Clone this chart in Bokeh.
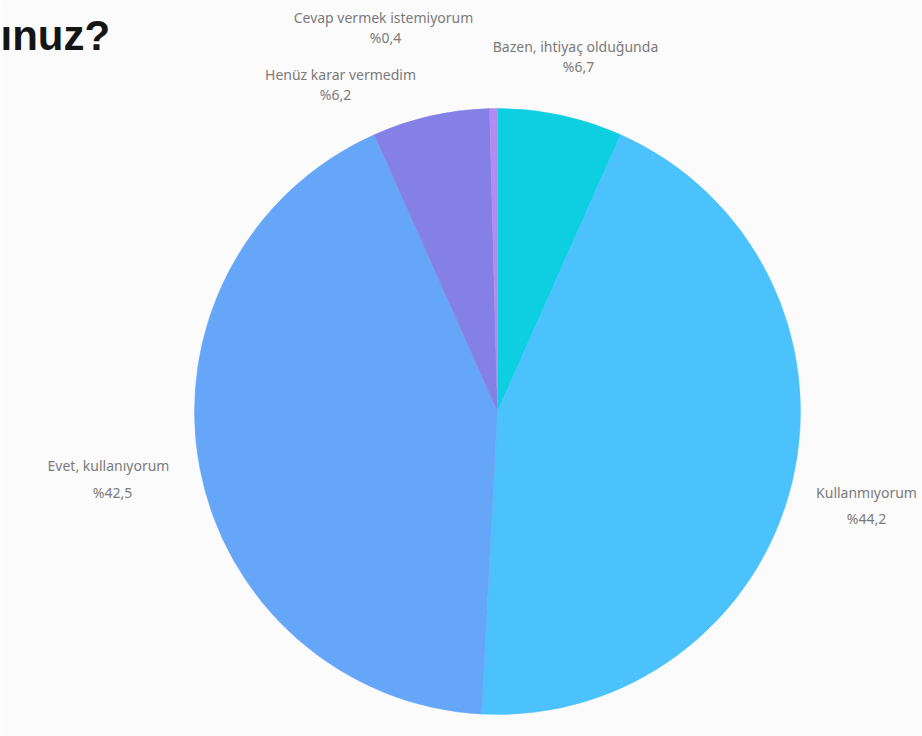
import math
from bokeh.plotting import figure
from bokeh.models import Label, Range1d
from bokeh.embed import file_html
from bokeh.resources import INLINE

# ---- data ----
title_tail = "ınuz?"
categories = ["Bazen, ihtiyaç olduğunda", "Kullanmıyorum", "Evet, kullanıyorum",
              "Henüz karar vermedim", "Cevap vermek istemiyorum"]
counts = [16, 106, 102, 15, 1]
colors = ["#0ecfe1", "#4bc2fc", "#66a6f9", "#8480e6", "#b28cf0"]

# ---- layout (reference pixel coordinates; y measured from top) ----
W, H = 922, 736
cx_ref, cy_ref, R = 497, 411, 303
# label anchor points (line 1, line 2) for each category
label_pos = [((575, 46), (578, 66)),
             ((866, 492), (866, 518)),
             ((108, 465), (112, 492)),
             ((340, 74), (335, 94)),
             ((383, 17), (385, 37))]

def fy(y_ref):
    return H - y_ref

p = figure(width=W, height=H, output_backend="svg", toolbar_location=None,
           x_range=Range1d(0, W), y_range=Range1d(0, H),
           min_border=0, outline_line_color=None,
           background_fill_color="#fcfbfc", border_fill_color="#fcfbfc")
p.axis.visible = False
p.grid.visible = False

total = sum(counts)
cum = 0
for name, c, col, (l1, l2) in zip(categories, counts, colors, label_pos):
    a0 = math.pi / 2 - 2 * math.pi * cum / total
    cum += c
    a1 = math.pi / 2 - 2 * math.pi * cum / total
    p.wedge(x=cx_ref, y=fy(cy_ref), radius=R, start_angle=a0, end_angle=a1,
            direction="clock", fill_color=col, line_color=col, line_width=0.5)
    pct = "%" + f"{c / total * 100:.1f}".replace(".", ",")
    p.add_layout(Label(x=l1[0], y=fy(l1[1]), text=name, text_align="center",
                       text_baseline="middle", text_font="Noto Sans",
                       text_font_size="14px", text_color="#7a7a7a"))
    p.add_layout(Label(x=l2[0], y=fy(l2[1]), text=pct, text_align="center",
                       text_baseline="middle", text_font="Noto Sans",
                       text_font_size="14px", text_color="#7a7a7a"))

p.add_layout(Label(x=0, y=fy(35), text=title_tail, text_align="left",
                   text_baseline="alphabetic", text_font="Liberation Sans",
                   text_font_style="bold", text_font_size="42px",
                   text_color="#151515"))

open("out.html", "w").write(file_html(p, INLINE))
